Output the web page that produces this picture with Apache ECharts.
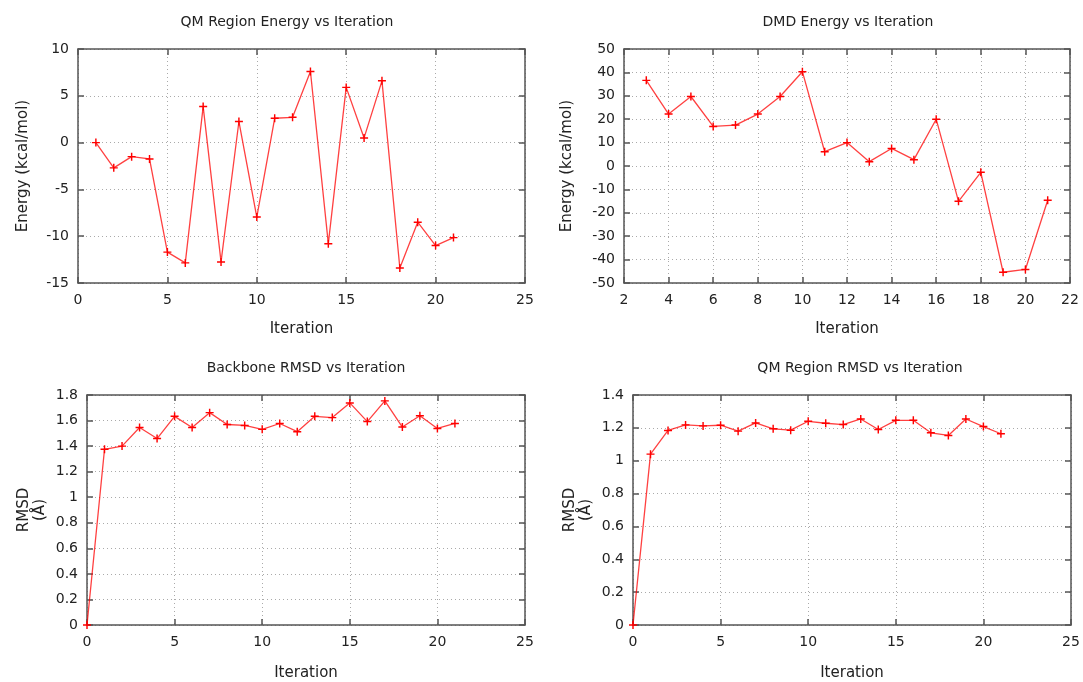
<!DOCTYPE html>
<html>
<head>
<meta charset="utf-8">
<script src="https://cdn.jsdelivr.net/npm/echarts@6/dist/echarts.min.js"></script>
<style>
  html, body { margin: 0; padding: 0; background: #fff; }
  #chart { width: 1083px; height: 682px; }
</style>
</head>
<body>
<div id="chart"></div>
<script>
// data
const qmIter = [1, 2, 3, 4, 5, 6, 7, 8, 9, 10, 11, 12, 13, 14, 15, 16, 17, 18, 19, 20, 21];
const qmEnergy = [0.0, -2.7, -1.5, -1.75, -11.7, -12.85, 3.85, -12.75, 2.25, -7.95, 2.6, 2.7, 7.6, -10.8, 5.9, 0.5, 6.6, -13.4, -8.5, -11.0, -10.15];

const dmdIter = [3, 4, 5, 6, 7, 8, 9, 10, 11, 12, 13, 14, 15, 16, 17, 18, 19, 20, 21];
const dmdEnergy = [36.6, 22.2, 29.7, 16.9, 17.5, 22.2, 29.7, 40.3, 6.1, 10.0, 1.85, 7.5, 2.7, 20.0, -15.1, -2.7, -45.4, -44.2, -14.65];

const rmsdIter = [0, 1, 2, 3, 4, 5, 6, 7, 8, 9, 10, 11, 12, 13, 14, 15, 16, 17, 18, 19, 20, 21];
const backboneRmsd = [0, 1.375, 1.40, 1.546, 1.459, 1.633, 1.546, 1.662, 1.569, 1.562, 1.531, 1.577, 1.513, 1.633, 1.623, 1.738, 1.592, 1.754, 1.549, 1.638, 1.538, 1.577];
const qmRmsd = [0, 1.04, 1.184, 1.218, 1.212, 1.216, 1.18, 1.23, 1.194, 1.186, 1.24, 1.228, 1.22, 1.254, 1.19, 1.246, 1.246, 1.17, 1.154, 1.254, 1.208, 1.164];

// axis ticks
const iterTicks = [0, 5, 10, 15, 20, 25];
const dmdIterTicks = [2, 4, 6, 8, 10, 12, 14, 16, 18, 20, 22];
const qmEnergyTicks = [-15, -10, -5, 0, 5, 10];
const dmdEnergyTicks = [-50, -40, -30, -20, -10, 0, 10, 20, 30, 40, 50];
const backboneTicks = [0, 0.2, 0.4, 0.6, 0.8, 1, 1.2, 1.4, 1.6, 1.8];
const qmRmsdTicks = [0, 0.2, 0.4, 0.6, 0.8, 1, 1.2, 1.4];

const chart = echarts.init(document.getElementById('chart'));

const FONT = 'DejaVu Sans';
const TXT = '#222';
const BORDER = '#555';
const PLUS = 'path://M0,4.1H10V5.9H0Z M4.1,0H5.9V10H4.1Z';

const panels = [
  { title: 'QM Region Energy vs Iteration', tx: 287, ty: 15, grid: { left: 78, top: 49, width: 447, height: 234 },
    xt: iterTicks, yt: qmEnergyTicks, x: qmIter, y: qmEnergy, yname: 'Energy (kcal/mol)', ygap: 47, xgap: 38 },
  { title: 'DMD Energy vs Iteration', tx: 848, ty: 15, grid: { left: 624, top: 49, width: 446, height: 234 },
    xt: dmdIterTicks, yt: dmdEnergyTicks, x: dmdIter, y: dmdEnergy, yname: 'Energy (kcal/mol)', ygap: 49, xgap: 38 },
  { title: 'Backbone RMSD vs Iteration', tx: 306, ty: 361, grid: { left: 87, top: 395, width: 438, height: 233 },
    xt: iterTicks, yt: backboneTicks, x: rmsdIter, y: backboneRmsd, yname: 'RMSD\n(Å)', ygap: 39, xgap: 40 },
  { title: 'QM Region RMSD vs Iteration', tx: 860, ty: 361, grid: { left: 633, top: 395, width: 438, height: 233 },
    xt: iterTicks, yt: qmRmsdTicks, x: rmsdIter, y: qmRmsd, yname: 'RMSD\n(Å)', ygap: 39, xgap: 40 }
];

const title = [], grid = [], xAxis = [], yAxis = [], series = [];

panels.forEach((p, i) => {
  title.push({
    text: p.title, left: p.tx, top: p.ty, textAlign: 'center', padding: 0,
    textStyle: { fontFamily: FONT, fontSize: 14, fontWeight: 'normal', color: TXT }
  });
  grid.push(p.grid);

  const xr = { min: p.xt[0], max: p.xt[p.xt.length - 1], interval: p.xt[1] - p.xt[0] };
  const yr = { min: p.yt[0], max: p.yt[p.yt.length - 1], interval: p.yt[1] - p.yt[0] };
  const line = { show: true, onZero: false, lineStyle: { color: BORDER, width: 1.5 } };
  const tick = { show: true, inside: true, length: 6, lineStyle: { color: BORDER, width: 1.5 } };
  const split = { show: true, lineStyle: { color: '#aaa', type: [1, 3], width: 1 } };
  const nameStyle = { fontFamily: FONT, fontSize: 15, color: TXT, lineHeight: 16 };

  xAxis.push({
    type: 'value', gridIndex: i, position: 'bottom', ...xr,
    axisLine: line, axisTick: tick, splitLine: split,
    axisLabel: { fontFamily: FONT, fontSize: 14, color: TXT, margin: 10 },
    name: 'Iteration', nameLocation: 'middle', nameGap: p.xgap, nameTextStyle: nameStyle
  });
  xAxis.push({
    type: 'value', gridIndex: i, position: 'top', ...xr,
    axisLine: line, axisTick: tick, splitLine: { show: false }, axisLabel: { show: false }
  });
  yAxis.push({
    type: 'value', gridIndex: i, position: 'left', ...yr,
    axisLine: line, axisTick: tick, splitLine: split,
    axisLabel: { fontFamily: FONT, fontSize: 14, color: TXT, margin: 9 },
    name: p.yname, nameLocation: 'middle', nameGap: p.ygap, nameRotate: 90, nameTextStyle: nameStyle
  });
  yAxis.push({
    type: 'value', gridIndex: i, position: 'right', ...yr,
    axisLine: line, axisTick: tick, splitLine: { show: false }, axisLabel: { show: false }
  });

  series.push({
    type: 'line', xAxisIndex: i * 2, yAxisIndex: i * 2,
    data: p.x.map((v, k) => [v, p.y[k]]),
    symbol: PLUS, symbolSize: 8, showSymbol: true,
    lineStyle: { color: 'rgba(255,0,0,0.75)', width: 1.3 },
    itemStyle: { color: '#ff0000' },
    clip: false, animation: false
  });
});

chart.setOption({ animation: false, title, grid, xAxis, yAxis, series });
</script>
</body>
</html>
